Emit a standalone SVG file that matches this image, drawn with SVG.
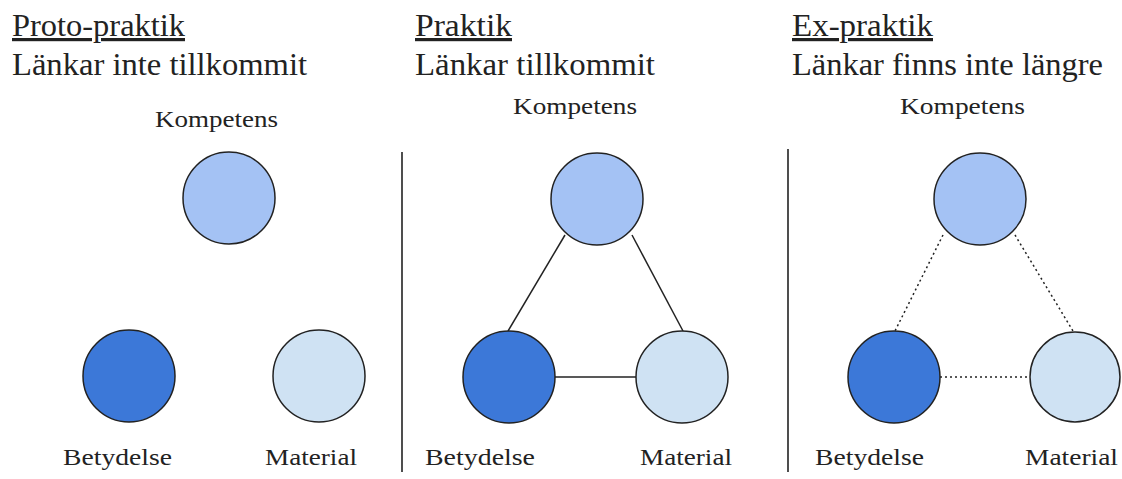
<svg xmlns="http://www.w3.org/2000/svg" width="1122" height="479" viewBox="0 0 1122 479">
<style>
text{font-family:"Times New Roman","Liberation Serif",Tinos,Times,serif;fill:#222}
.title{font-size:32px;text-decoration:underline}
.sub{font-size:32px}
.lbl{font-size:23.5px}
.c{stroke:#222;stroke-width:1.5}
.k{fill:#a4c2f4}.b{fill:#3c78d8}.m{fill:#cfe2f3}
.link{stroke:#222;stroke-width:1.5;fill:none}
.dot{stroke-dasharray:2 3}
.sep{stroke:#222;stroke-width:1.6}
</style>
<rect width="1122" height="479" fill="#fff"/>
<g id="headers">
<text class="title" x="12" y="36" textLength="173" lengthAdjust="spacingAndGlyphs">Proto-praktik</text>
<text class="sub" x="12" y="75" textLength="295" lengthAdjust="spacingAndGlyphs">Länkar inte tillkommit</text>
<text class="title" x="415" y="36" textLength="97" lengthAdjust="spacingAndGlyphs">Praktik</text>
<text class="sub" x="415" y="75" textLength="240" lengthAdjust="spacingAndGlyphs">Länkar tillkommit</text>
<text class="title" x="792" y="36" textLength="141" lengthAdjust="spacingAndGlyphs">Ex-praktik</text>
<text class="sub" x="792" y="75" textLength="311" lengthAdjust="spacingAndGlyphs">Länkar finns inte längre</text>
</g>
<g id="separators">
<line class="sep" x1="402" y1="152" x2="402" y2="472"/>
<line class="sep" x1="788" y1="149" x2="788" y2="472"/>
</g>
<g id="connectors">
<line class="link" x1="565" y1="235" x2="508" y2="331"/>
<line class="link" x1="632" y1="235" x2="683" y2="331"/>
<line class="link" x1="555" y1="377" x2="636" y2="377"/>
<line class="link dot" x1="943" y1="235" x2="895" y2="331"/>
<line class="link dot" x1="1015" y1="235" x2="1073" y2="331"/>
<line class="link dot" x1="940" y1="377" x2="1030" y2="377"/>
</g>
<g id="p1-kompetens"><circle class="c k" cx="229" cy="198" r="46"/><text class="lbl" x="155" y="127" textLength="123" lengthAdjust="spacingAndGlyphs">Kompetens</text></g>
<g id="p1-betydelse"><circle class="c b" cx="129" cy="376" r="46"/><text class="lbl" x="63" y="465" textLength="109" lengthAdjust="spacingAndGlyphs">Betydelse</text></g>
<g id="p1-material"><circle class="c m" cx="319" cy="376" r="46"/><text class="lbl" x="265" y="465" textLength="92" lengthAdjust="spacingAndGlyphs">Material</text></g>
<g id="p2-kompetens"><circle class="c k" cx="597" cy="199" r="46"/><text class="lbl" x="513" y="114" textLength="124" lengthAdjust="spacingAndGlyphs">Kompetens</text></g>
<g id="p2-betydelse"><circle class="c b" cx="509" cy="377" r="46"/><text class="lbl" x="425" y="465" textLength="110" lengthAdjust="spacingAndGlyphs">Betydelse</text></g>
<g id="p2-material"><circle class="c m" cx="682" cy="377" r="46"/><text class="lbl" x="640" y="465" textLength="92" lengthAdjust="spacingAndGlyphs">Material</text></g>
<g id="p3-kompetens"><circle class="c k" cx="980" cy="199" r="46"/><text class="lbl" x="900" y="114" textLength="125" lengthAdjust="spacingAndGlyphs">Kompetens</text></g>
<g id="p3-betydelse"><circle class="c b" cx="894" cy="377" r="46"/><text class="lbl" x="815" y="465" textLength="109" lengthAdjust="spacingAndGlyphs">Betydelse</text></g>
<g id="p3-material"><circle class="c m" cx="1075" cy="377" r="45"/><text class="lbl" x="1025" y="465" textLength="93" lengthAdjust="spacingAndGlyphs">Material</text></g>
</svg>
